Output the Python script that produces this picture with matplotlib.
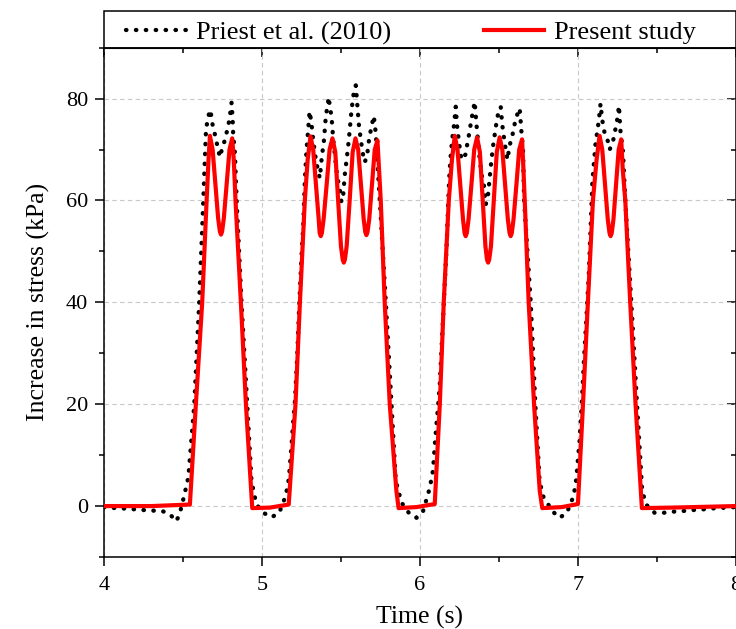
import numpy as np
import matplotlib
matplotlib.use('Agg')
import matplotlib.pyplot as plt
from matplotlib.ticker import MultipleLocator
from matplotlib.patches import Rectangle

plt.rcParams['font.family'] = ['Liberation Serif', 'DejaVu Serif']

# Priest et al. (2010) - measured
t_priest = [4.000, 4.017, 4.139, 4.259, 4.371, 4.418, 4.456, 4.477, 4.506, 4.534,
            4.572, 4.603, 4.629, 4.646, 4.656, 4.671, 4.681, 4.688, 4.703, 4.714,
            4.734, 4.749, 4.766, 4.781, 4.794, 4.808, 4.814, 4.818, 4.829, 4.840,
            4.871, 4.907, 4.934, 4.950, 4.966, 5.009, 5.061, 5.110, 5.146, 5.160,
            5.171, 5.188, 5.198, 5.209, 5.224, 5.236, 5.251, 5.262, 5.272, 5.283,
            5.293, 5.302, 5.313, 5.325, 5.342, 5.356, 5.367, 5.381, 5.391, 5.405,
            5.424, 5.430, 5.441, 5.452, 5.462, 5.473, 5.483, 5.494, 5.504, 5.515,
            5.525, 5.536, 5.546, 5.557, 5.567, 5.582, 5.595, 5.604, 5.614, 5.627,
            5.641, 5.652, 5.667, 5.679, 5.694, 5.709, 5.722, 5.730, 5.739, 5.747,
            5.785, 5.821, 5.848, 5.884, 5.937, 5.980, 6.021, 6.063, 6.084, 6.095,
            6.105, 6.116, 6.127, 6.141, 6.154, 6.169, 6.180, 6.186, 6.194, 6.205,
            6.217, 6.228, 6.236, 6.249, 6.264, 6.289, 6.310, 6.327, 6.348, 6.359,
            6.370, 6.380, 6.394, 6.407, 6.418, 6.433, 6.449, 6.464, 6.479, 6.491,
            6.513, 6.522, 6.538, 6.555, 6.570, 6.587, 6.608, 6.633, 6.643, 6.654,
            6.661, 6.703, 6.732, 6.759, 6.780, 6.840, 6.886, 6.932, 6.975, 6.992,
            7.002, 7.013, 7.027, 7.040, 7.055, 7.070, 7.082, 7.093, 7.103, 7.114,
            7.129, 7.139, 7.145, 7.156, 7.171, 7.192, 7.203, 7.224, 7.234, 7.249,
            7.262, 7.270, 7.287, 7.302, 7.340, 7.376, 7.409, 7.434, 7.487, 7.550,
            7.604, 7.660, 7.719, 7.780, 7.835, 7.890, 7.950, 8.000]
s_priest = [-0.2, -0.3, -0.5, -0.8, -1.0, -1.6, -3.0, -1.8, 1.8, 5.6,
            20, 40, 60, 73.8, 75.8, 77.8, 76.5, 74.8, 72.9, 71.3,
            68.5, 70.3, 71.9, 73.9, 75.8, 79.2, 76.5, 73.2, 69.3, 60,
            40, 20, 5, 2.5, 0.3, -1.3, -2.2, -1.3, 1.6, 3.4,
            5.4, 12, 16.4, 20.5, 29.5, 39, 49, 55, 63.8, 70,
            73.8, 77.5, 75.5, 71.8, 68, 65.8, 64.4, 69, 71, 76.5,
            80.3, 78.5, 76.5, 72, 69, 65.8, 63.8, 62, 59.7, 61,
            65, 67.8, 70.5, 74, 77.5, 81.2, 82.6, 79, 75, 71.8,
            69, 67.5, 69, 72, 74.5, 76.6, 73, 68.5, 63.8, 60,
            40, 20, 5, 0.7, -1.6, -2.3, -1.0, 3.5, 7, 11.8,
            15.7, 19.6, 24, 32.7, 41, 50.3, 59, 64, 68, 71.9,
            74.8, 78.4, 74.8, 71.3, 68, 69, 72.6, 75.8, 79.4, 75,
            71.3, 68, 64.7, 62.8, 59.2, 61.2, 66.4, 70.6, 73.9, 76.4,
            78.4, 75, 71.3, 68, 70.9, 72.8, 76.1, 78.1, 73.9, 70,
            60, 40, 20, 5, 2.0, -1.0, -2.3, -1.3, 2.0, 5.4,
            9.2, 13, 20.5, 28.7, 36.6, 45, 54.3, 63.4, 67.3, 71.3,
            74.5, 77.1, 79, 75.8, 73.2, 71.6, 70, 71.6, 73.2, 75.5,
            78.6, 74, 69.6, 60, 40, 20, 3, 0.3, -1.3, -1.3,
            -1.1, -1.0, -0.8, -0.7, -0.5, -0.4, -0.3, -0.2]

# present study - computed
t_present = [4.000, 4.300, 4.544, 4.582, 4.622, 4.650, 4.662, 4.671,
             4.688, 4.706, 4.723, 4.734, 4.741, 4.748, 4.759, 4.776, 4.795, 4.812,
             4.822, 4.833, 4.867, 4.899, 4.939, 5.050, 5.170,
             5.213, 5.241, 5.272, 5.290, 5.308,
             5.325, 5.343, 5.360, 5.366, 5.373, 5.380, 5.391, 5.410, 5.429, 5.447,
             5.465, 5.483, 5.501, 5.512, 5.519, 5.526, 5.537, 5.556, 5.575, 5.593,
             5.610, 5.628, 5.645, 5.655, 5.662, 5.669, 5.680, 5.697, 5.715, 5.732,
             5.742, 5.753, 5.778, 5.810, 5.852, 5.866, 5.980, 6.095,
             6.127, 6.152, 6.184, 6.204, 6.222,
             6.239, 6.257, 6.274, 6.284, 6.291, 6.298, 6.309, 6.327, 6.345, 6.363,
             6.381, 6.399, 6.416, 6.426, 6.433, 6.440, 6.451, 6.469, 6.488, 6.506,
             6.523, 6.541, 6.558, 6.569, 6.576, 6.583, 6.594, 6.612, 6.630, 6.648,
             6.657, 6.665, 6.690, 6.724, 6.760, 6.776, 6.900, 7.002,
             7.034, 7.065, 7.097, 7.120, 7.139,
             7.156, 7.174, 7.191, 7.202, 7.209, 7.216, 7.227, 7.243, 7.260, 7.276,
             7.286, 7.302, 7.333, 7.367, 7.407, 7.600, 8.000]
s_present = [0.0, 0.0, 0.3, 20, 40, 60, 68, 72.7,
             70, 63, 56.5, 53.9, 53.3, 53.9, 56.5, 63, 70, 72.2,
             68, 60, 40, 20, -0.4, -0.3, 0.3,
             20, 40, 60, 68, 72.6,
             70, 63, 56.3, 53.6, 53.0, 53.6, 56.3, 63, 70, 72.2,
             69.5, 60, 51, 48.4, 47.8, 48.4, 51, 60, 69.5, 72.2,
             70, 63, 56.3, 53.8, 53.2, 53.8, 56.3, 63, 70, 71.8,
             66, 60, 40, 20, 3, -0.4, -0.2, 0.4,
             20, 40, 60, 68, 72.7,
             70, 63, 56.3, 53.6, 53.0, 53.6, 56.3, 63, 70, 72.4,
             69.5, 60, 51, 48.4, 47.8, 48.4, 51, 60, 69.5, 72.4,
             70, 63, 56.3, 53.6, 53.0, 53.6, 56.3, 63, 70, 72.0,
             66, 60, 40, 20, 3, -0.4, -0.2, 0.4,
             20, 40, 60, 68, 72.7,
             70, 63, 56.3, 53.6, 53.0, 53.6, 56.3, 63, 70, 72.0,
             66, 60, 40, 20, -0.4, -0.3, 0.0]

fig = plt.figure(figsize=(7.36, 6.29), dpi=100)
ax = fig.add_axes([104/736, 1-557/629, (735.5-104)/736, (557-47.7)/629])

ax.plot(t_priest, s_priest, color='black', lw=3.1, linestyle=(0, (0.1, 2.2)),
        dash_capstyle='round', label='Priest et al. (2010)', zorder=2)
ax.plot(t_present, s_present, color='#ff0000', lw=3.0, label='Present study',
        solid_joinstyle='round', zorder=3)

ax.set_xlim(4, 8)
ax.set_ylim(-10, 90)
ax.set_xticks([4, 5, 6, 7, 8])
ax.set_yticks([0, 20, 40, 60, 80])
ax.xaxis.set_minor_locator(MultipleLocator(0.5))
ax.yaxis.set_minor_locator(MultipleLocator(10))
ax.grid(True, color='#c8c8c8', linestyle=(0, (4, 3)), linewidth=0.8)
ax.set_axisbelow(True)

ax.tick_params(which='both', direction='out', width=1.1, labelsize=16, colors='black')
ax.tick_params(which='major', length=6.5)
ax.tick_params(which='minor', length=3.6)
ax.tick_params(axis='y', pad=5)
ax.tick_params(axis='x', pad=7)
for sp in ax.spines.values():
    sp.set_linewidth(1.1)

# mirrored ticks pointing inwards
sx = ax.secondary_xaxis('top')
sx.set_xticks([4, 5, 6, 7, 8])
sx.xaxis.set_minor_locator(MultipleLocator(0.5))
sx.tick_params(which='both', direction='in', labeltop=False, width=1.1)
sx.tick_params(which='major', length=6.5)
sx.tick_params(which='minor', length=3.6)
sy = ax.secondary_yaxis('right')
sy.set_yticks([0, 20, 40, 60, 80])
sy.yaxis.set_minor_locator(MultipleLocator(10))
sy.tick_params(which='both', direction='in', labelright=False, width=1.1)
sy.tick_params(which='major', length=6.5)
sy.tick_params(which='minor', length=3.6)

ax.set_xlabel('Time (s)', fontsize=18.5, labelpad=8)
ax.set_ylabel('Increase in stress (kPa)', fontsize=18.5, labelpad=11)

# legend box sitting on top of the axes
box_h = 36.7 / 509.3
ax.add_patch(Rectangle((0, 1), 1, box_h, transform=ax.transAxes, fill=False,
                       edgecolor='black', linewidth=1.1, clip_on=False))
leg = ax.legend(loc='center left',
                bbox_to_anchor=(22/631.5, 1 - 3.5/509.3, 570/631.5, box_h),
                mode='expand', ncol=2, frameon=False, borderaxespad=0,
                borderpad=0, handlelength=2.3, handletextpad=0.37, fontsize=19)

fig.savefig('out.png', dpi=100)
